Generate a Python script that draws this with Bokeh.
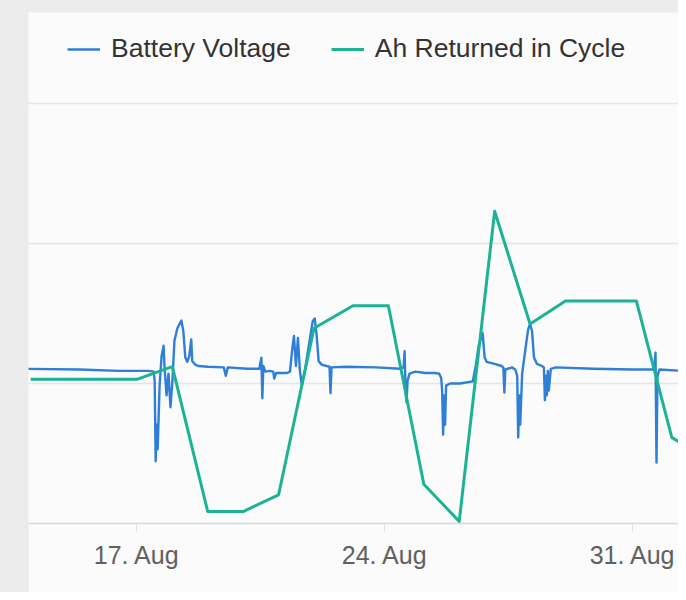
import numpy as np
import pandas as pd
from bokeh.plotting import figure
from bokeh.models import (Range1d, Legend, LegendItem, DatetimeTickFormatter,
                          FixedTicker, Grid, ColumnDataSource)
from bokeh.layouts import column
from bokeh.embed import file_html
from bokeh.resources import INLINE

# ---------------- data ----------------
# Battery voltage: time as fractional day of August, value in volts
volt_day = [13.709, 15.382, 16.498, 17.335, 17.474, 17.502, 17.530, 17.558, 17.586, 17.641,
            17.697, 17.753, 17.781, 17.837, 17.892, 17.948, 18.004, 18.060, 18.143, 18.255,
            18.311, 18.367, 18.422, 18.478, 18.534, 18.562, 18.645, 18.729, 19.008, 19.454,
            19.510, 19.566, 20.123, 20.458, 20.514, 20.542, 20.570, 20.625, 20.737, 20.849,
            20.876, 20.932, 21.239, 21.323, 21.378, 21.434, 21.490, 21.546, 21.602, 21.657,
            21.741, 21.853, 21.964, 22.020, 22.076, 22.131, 22.215, 22.354, 22.438, 22.466,
            22.494, 22.912, 23.749, 24.446, 24.530, 24.558, 24.586, 24.613, 24.641, 24.697,
            24.864, 25.143, 25.422, 25.534, 25.590, 25.617, 25.645, 25.673, 25.701, 25.729,
            25.840, 26.119, 26.482, 26.566, 26.649, 26.761, 26.817, 26.872, 27.095, 27.291,
            27.346, 27.374, 27.402, 27.597, 27.681, 27.737, 27.765, 27.793, 27.821, 27.876,
            27.960, 28.044, 28.099, 28.155, 28.211, 28.295, 28.434, 28.490, 28.518, 28.546,
            28.574, 28.601, 28.629, 28.685, 28.825, 29.884, 31.000, 31.558, 31.613, 31.641,
            31.669, 31.697, 31.753, 32.394]
volt_v = [24.21, 24.20, 24.18, 24.18, 24.17, 24.04, 22.89, 23.41, 23.06, 23.97,
          24.39, 24.54, 24.23, 23.83, 24.14, 23.66, 24.04, 24.61, 24.79, 24.90,
          24.75, 24.37, 24.31, 24.39, 24.63, 24.32, 24.27, 24.25, 24.24, 24.23,
          24.11, 24.23, 24.21, 24.21, 24.37, 23.79, 24.25, 24.17, 24.18, 24.17,
          24.07, 24.15, 24.15, 24.17, 24.46, 24.68, 24.25, 24.65, 24.18, 23.97,
          24.18, 24.54, 24.89, 24.93, 24.68, 24.32, 24.27, 24.25, 24.24, 23.86,
          24.23, 24.24, 24.23, 24.21, 24.23, 24.46, 23.90, 23.73, 24.04, 24.14,
          24.17, 24.15, 24.15, 24.14, 24.08, 23.90, 23.27, 23.83, 23.41, 23.97,
          24.00, 24.00, 24.03, 24.25, 24.54, 24.72, 24.37, 24.31, 24.28, 24.25,
          24.23, 23.87, 24.20, 24.23, 24.20, 24.11, 23.23, 23.83, 23.41, 24.14,
          24.46, 24.77, 24.85, 24.75, 24.37, 24.28, 24.25, 24.23, 23.76, 24.11,
          23.83, 24.18, 23.90, 24.21, 24.23, 24.21, 24.20, 24.20, 24.25, 24.44,
          22.87, 24.11, 24.20, 24.18]

# Ah returned in cycle: daily points (fractional day of August), value in Ah
ah_day = [14.0, 15.0, 16.0, 17.0, 18.0, 19.0, 20.0, 21.0, 22.0, 23.1,
          24.1, 25.1, 26.1, 27.1, 28.1, 29.1, 30.1, 31.1, 32.1, 33.1]
ah_val = [20.6, 20.6, 20.6, 20.6, 22.4, 1.7, 1.7, 4.1, 27.9, 31.1,
          31.1, 5.6, 0.3, 44.6, 28.5, 31.8, 31.8, 31.8, 12.3, 9.2]

tick_days = [17, 24, 31]          # x-axis ticks: 17. Aug, 24. Aug, 31. Aug
ah_grid = [0, 20, 40, 60]
x_start_day, x_end_day = 13.94, 32.29
ah_range = (0, 73)        # top part of the frame holds the legend
volt_range = (22, 29.3)


def to_dt(days):
    return pd.Timestamp("2020-08-01") + pd.to_timedelta(np.asarray(days, dtype=float) - 1.0, unit="D")


def to_ms(days):
    return [float(t.value) / 1e6 for t in to_dt(days)]


FONT = "Liberation Sans"
BLUE = "#2f7ed8"
GREEN = "#1bb394"
CARD = "#fbfbfb"

p = figure(width=650, height=580, x_axis_type="datetime", y_axis_location=None,
           output_backend="svg", toolbar_location=None,
           x_range=Range1d(to_dt([x_start_day])[0], to_dt([x_end_day])[0]),
           y_range=Range1d(*ah_range),
           min_border_left=0, min_border_right=0, min_border_top=0, min_border_bottom=69)
p.extra_y_ranges = {"volt": Range1d(*volt_range)}
p.margin = (12, 0, 0, 28)

p.background_fill_color = CARD
p.border_fill_color = CARD
p.outline_line_color = None
p.xgrid.visible = False
p.ygrid.visible = False
p.add_layout(Grid(dimension=1, ticker=FixedTicker(ticks=ah_grid),
                  grid_line_color="#e4e4e4", grid_line_width=1.5))

src_v = ColumnDataSource(dict(t=to_dt(volt_day), v=volt_v))
src_a = ColumnDataSource(dict(t=to_dt(ah_day), v=ah_val))

r_v = p.line("t", "v", source=src_v, y_range_name="volt", line_color=BLUE,
             line_width=2.4, line_join="round")
r_a = p.line("t", "v", source=src_a, line_color=GREEN, line_width=3, line_join="round")

ax = p.xaxis[0]
ax.ticker = FixedTicker(ticks=to_ms(tick_days))
ax.formatter = DatetimeTickFormatter(days="%d. %b", months="%d. %b", hours="%d. %b")
ax.axis_line_color = "#d8d8d8"
ax.axis_line_width = 1.5
ax.major_tick_line_color = "#e0e0e0"
ax.major_tick_out = 8
ax.major_tick_in = 0
ax.minor_tick_line_color = None
ax.major_label_text_font = FONT
ax.major_label_text_font_size = "25px"
ax.major_label_text_color = "#606060"
ax.major_label_standoff = 9

legend = Legend(items=[LegendItem(label="Battery Voltage", renderers=[r_v]),
                       LegendItem(label="Ah Returned in Cycle", renderers=[r_a])],
                orientation="horizontal", location=(39, 459), padding=0, margin=0,
                spacing=40, label_standoff=11, glyph_width=33, glyph_height=30,
                label_height=30,
                label_text_font=FONT, label_text_font_size="26.5px",
                label_text_color="#333333", border_line_color=None,
                background_fill_alpha=0)
p.add_layout(legend, "center")

layout = column(p, styles={"background-color": "#ececec"})

open("out.html", "w").write(file_html(layout, INLINE))
